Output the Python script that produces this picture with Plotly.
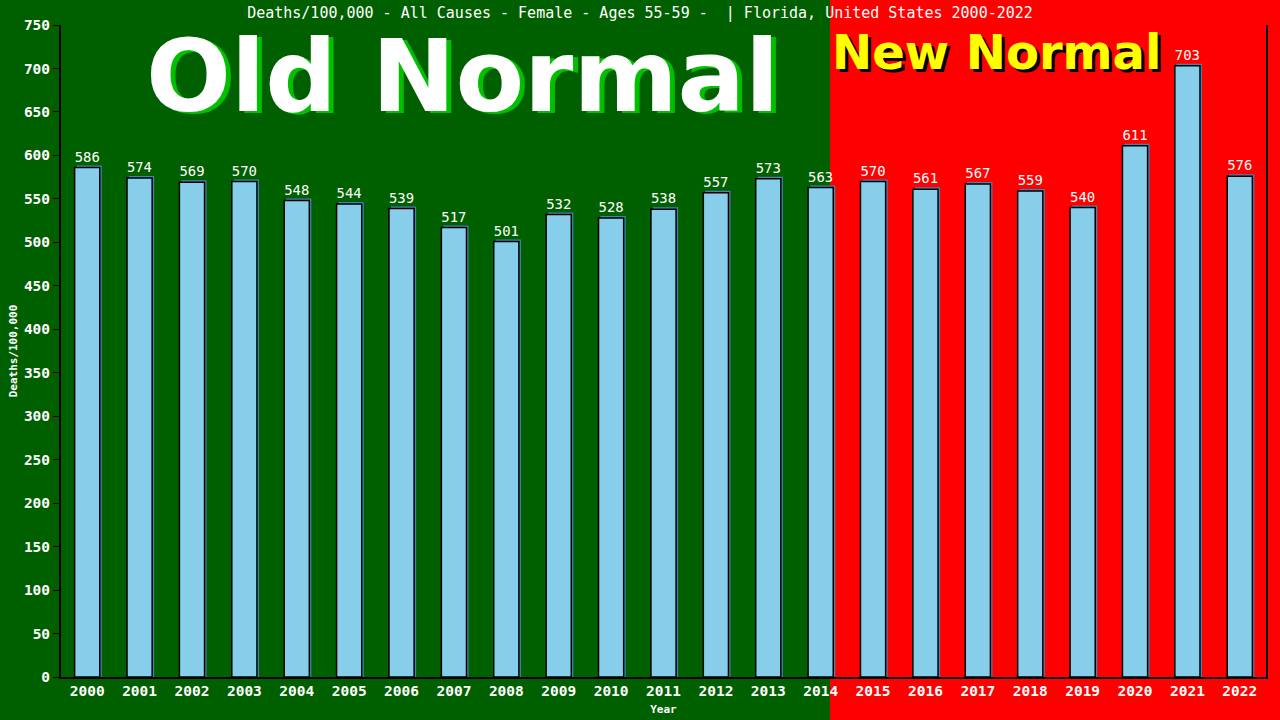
import plotly.graph_objects as go

years = [str(y) for y in range(2000, 2023)]
deaths = [586, 574, 569, 570, 548, 544, 539, 517, 501, 532, 528, 538, 557,
          573, 563, 570, 561, 567, 559, 540, 611, 703, 576]
y_ticks = list(range(0, 751, 50))

title_text = "Deaths/100,000 - All Causes - Female - Ages 55-59 -  | Florida, United States 2000-2022"

W, H = 1280, 720
ml, mr, mt, mb = 61, 14, 25, 43
pw, ph = W - ml - mr, H - mt - mb

def px_x(p):
    return (p - ml) / pw

def px_y(p):
    return (H - mb - p) / ph

mono = "DejaVu Sans Mono"
units_per_px = 750 / ph
shadow = [v + 2 * units_per_px for v in deaths]

fig = go.Figure()
fig.add_trace(go.Bar(x=years, y=shadow, width=0.48, offset=-0.24 + 2 / (pw / 23),
                     marker=dict(color="#4682B4", line=dict(width=0)),
                     hoverinfo="skip", showlegend=False))
fig.add_trace(go.Bar(x=years, y=deaths, width=0.48, offset=-0.24,
                     marker=dict(color="#87CEEB", line=dict(color="black", width=1.5)),
                     text=[str(v) for v in deaths], textposition="outside",
                     textfont=dict(family=mono, size=14.5, color="white"),
                     cliponaxis=False, showlegend=False))

fig.update_layout(
    width=W, height=H, barmode="overlay",
    margin=dict(l=ml, r=mr, t=mt, b=mb, autoexpand=False),
    paper_bgcolor="#006000", plot_bgcolor="rgba(0,0,0,0)",
    title=dict(text=title_text, x=0.5, xanchor="center", y=1 - 13 / H, yanchor="middle",
               font=dict(family=mono, size=15, color="white")),
    xaxis=dict(range=[-0.5, 22.5], showgrid=False, showline=True, linecolor="black",
               linewidth=2, ticks="", automargin=False,
               tickfont=dict(family=mono, size=14.5, color="white", weight="bold"),
               title=dict(text="<b>Year</b>", font=dict(family=mono, size=11, color="white"),
                          standoff=7)),
    yaxis=dict(range=[0, 750], tickvals=y_ticks, showgrid=False, showline=True,
               linecolor="black", linewidth=2, mirror=True, ticks="outside", ticklen=6,
               tickcolor="black", automargin=False,
               tickfont=dict(family=mono, size=14.5, color="white", weight="bold"),
               zeroline=False,
               title=dict(text="<b>Deaths/100,000</b>", font=dict(family=mono, size=11, color="white"),
                          standoff=4)),
    shapes=[dict(type="rect", xref="paper", yref="paper", x0=px_x(830), x1=px_x(W + 5),
                 y0=px_y(H + 5), y1=px_y(-5), fillcolor="#FF0000", line=dict(width=0),
                 layer="below")],
)

def label(text, cx, cy, size, color, xanchor="center"):
    fig.add_annotation(text=f"<b>{text}</b>", xref="paper", yref="paper",
                       x=px_x(cx), y=px_y(cy), xanchor=xanchor, yanchor="middle",
                       showarrow=False, font=dict(family="DejaVu Sans", size=size, color=color))

label("Old Normal", 467, 79, 100, "#00C000")
label("Old Normal", 462, 77, 100, "white")
label("New Normal", 833, 55, 48, "black", xanchor="left")
label("New Normal", 830, 52, 48, "#FFFF00", xanchor="left")

fig.write_html("out.html", config={"displayModeBar": False},
               post_script="document.body.style.margin='0';document.body.style.overflow='hidden';")
